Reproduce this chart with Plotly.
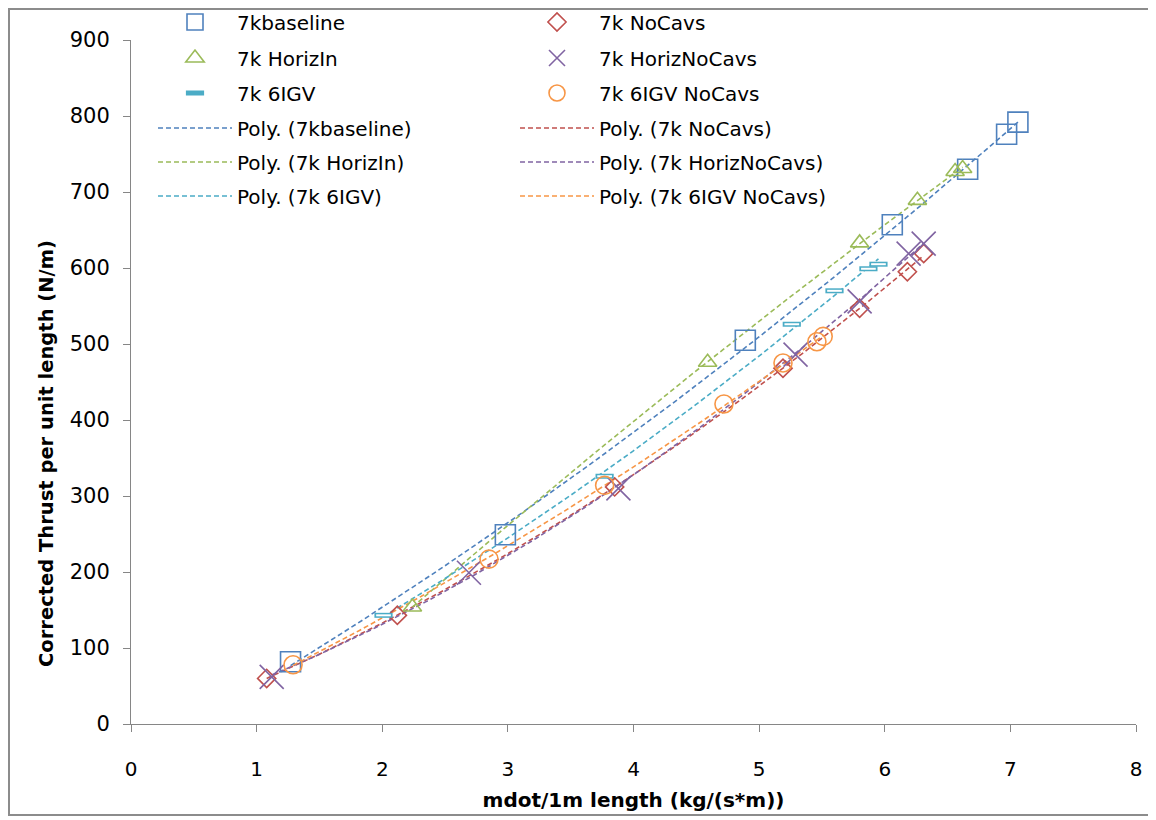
import numpy as np
import plotly.graph_objects as go

# ---- data ----
x_baseline = [1.27, 2.98, 4.89, 6.06, 6.66, 6.97, 7.06]
y_baseline = [82, 249, 505, 657, 730, 776, 792]

x_nocavs = [1.08, 2.12, 3.85, 5.19, 5.80, 6.18, 6.31]
y_nocavs = [60, 143, 312, 468, 547, 595, 619]

x_horizin = [2.24, 4.59, 5.80, 6.26, 6.56, 6.62]
y_horizin = [154, 476, 633, 689, 727, 731]

x_horiznocavs = [1.12, 2.69, 3.88, 5.29, 5.80, 6.19, 6.31]
y_horiznocavs = [62, 199, 310, 486, 556, 619, 632]

x_6igv = [2.01, 3.77, 5.26, 5.60, 5.87, 5.95]
y_6igv = [143, 326, 526, 570, 599, 605]

x_6igvnocavs = [1.29, 2.85, 3.77, 4.72, 5.19, 5.46, 5.51]
y_6igvnocavs = [78, 217, 314, 421, 475, 503, 510]

names = ["7kbaseline", "7k NoCavs", "7k HorizIn", "7k HorizNoCavs", "7k 6IGV", "7k 6IGV NoCavs"]
xs = [x_baseline, x_nocavs, x_horizin, x_horiznocavs, x_6igv, x_6igvnocavs]
ys = [y_baseline, y_nocavs, y_horizin, y_horiznocavs, y_6igv, y_6igvnocavs]
colors = ["#4F81BD", "#C0504D", "#9BBB59", "#8064A2", "#4BACC6", "#F79646"]
symbols = ["square-open", "diamond-open", "triangle-up-open", "x-thin-open", "line-ew", "circle-open"]
sizes = [20, 14, 16, 24, 13, 18]

x_ticks = [0, 1, 2, 3, 4, 5, 6, 7, 8]
y_ticks = [0, 100, 200, 300, 400, 500, 600, 700, 800, 900]

x_title = "mdot/1m length (kg/(s*m))"
y_title = "Corrected Thrust per unit length (N/m)"

# ---- figure geometry (page has an 8px body margin) ----
OFF = 8
W, H = 1148, 812
L, R, T, B = 123, 20, 32, 96
pw, ph = W - L - R, H - T - B

def px2paper_x(page_px):
    return (page_px - OFF - L) / pw

def px2paper_y(page_py):
    return (H - B - (page_py - OFF)) / ph

FONT = "DejaVu Sans, Verdana, sans-serif"

fig = go.Figure()

legend_font = dict(family=FONT, size=20, color="#000000")
row_centers = [22, 58, 93, 128, 162, 196]
col_starts = [153, 515]

legend_layouts = {}
def legend_name(i):
    return "legend" if i == 0 else f"legend{i + 1}"

for i in range(12):
    row, col = i // 2, i % 2
    legend_layouts[legend_name(i)] = dict(
        x=px2paper_x(col_starts[col]), y=px2paper_y(row_centers[row]),
        xanchor="left", yanchor="middle", orientation="v",
        bgcolor="rgba(0,0,0,0)", borderwidth=0, font=legend_font,
        itemwidth=74, itemsizing="trace",
    )

# trendlines (2nd-order polynomial fits, like Excel "Poly." trendlines)
for k in range(6):
    coef = np.polyfit(xs[k], ys[k], 2)
    xf = np.linspace(min(xs[k]), max(xs[k]), 120)
    yf = np.polyval(coef, xf)
    fig.add_trace(go.Scatter(
        x=xf, y=yf, mode="lines", name=f"Poly. ({names[k]})",
        line=dict(color=colors[k], width=1.6, dash="5px,3px"),
        legend=legend_name(6 + k), hoverinfo="skip",
    ))

# markers
for k in range(6):
    if symbols[k] == "line-ew":
        marker = dict(symbol="line-ew", size=sizes[k], color=colors[k],
                      line=dict(color=colors[k], width=5))
    else:
        marker = dict(symbol=symbols[k], size=sizes[k], color=colors[k],
                      line=dict(color=colors[k], width=1.6))
    fig.add_trace(go.Scatter(
        x=xs[k], y=ys[k], mode="markers", name=names[k],
        marker=marker, legend=legend_name(k),
    ))
    if symbols[k] == "line-ew":
        fig.add_trace(go.Scatter(
            x=xs[k], y=ys[k], mode="markers", showlegend=False, hoverinfo="skip",
            marker=dict(symbol="line-ew", size=sizes[k] - 2.5, color="white",
                        line=dict(color="white", width=2)),
        ))

axis_line = "#868686"
fig.update_layout(
    width=W, height=H,
    margin=dict(l=L, r=R, t=T, b=B, autoexpand=False),
    paper_bgcolor="white", plot_bgcolor="white",
    showlegend=True,
    xaxis=dict(
        range=[0, 8], tickvals=x_ticks, ticktext=[str(v) for v in x_ticks],
        showgrid=False, zeroline=False, showline=True, linecolor=axis_line, linewidth=1,
        ticks="outside", ticklen=7, tickcolor=axis_line, ticklabelstandoff=20,
        tickfont=dict(family=FONT, size=20, color="#000000"),
        title=dict(text=f"<b>{x_title}</b>", standoff=12,
                   font=dict(family=FONT, size=20, color="#000000")),
    ),
    yaxis=dict(
        range=[0, 900], tickvals=y_ticks, ticktext=[str(v) for v in y_ticks],
        showgrid=False, zeroline=False, showline=True, linecolor=axis_line, linewidth=1,
        ticks="outside", ticklen=7, tickcolor=axis_line, ticklabelstandoff=9,
        tickfont=dict(family=FONT, size=21, color="#000000"),
    ),
    annotations=[dict(text=f"<b>{y_title}</b>", textangle=-90, showarrow=False,
                      xref="paper", yref="paper",
                      x=px2paper_x(46), y=px2paper_y(454),
                      xanchor="center", yanchor="middle",
                      font=dict(family=FONT, size=19.5, color="#000000"))],
    shapes=[dict(type="rect", xref="paper", yref="paper",
                 x0=px2paper_x(9), x1=px2paper_x(1152),
                 y0=px2paper_y(815), y1=px2paper_y(9),
                 line=dict(color="#8c8c8c", width=2), fillcolor="rgba(0,0,0,0)", layer="below")],
    **legend_layouts,
)

fig.write_html("out.html")
